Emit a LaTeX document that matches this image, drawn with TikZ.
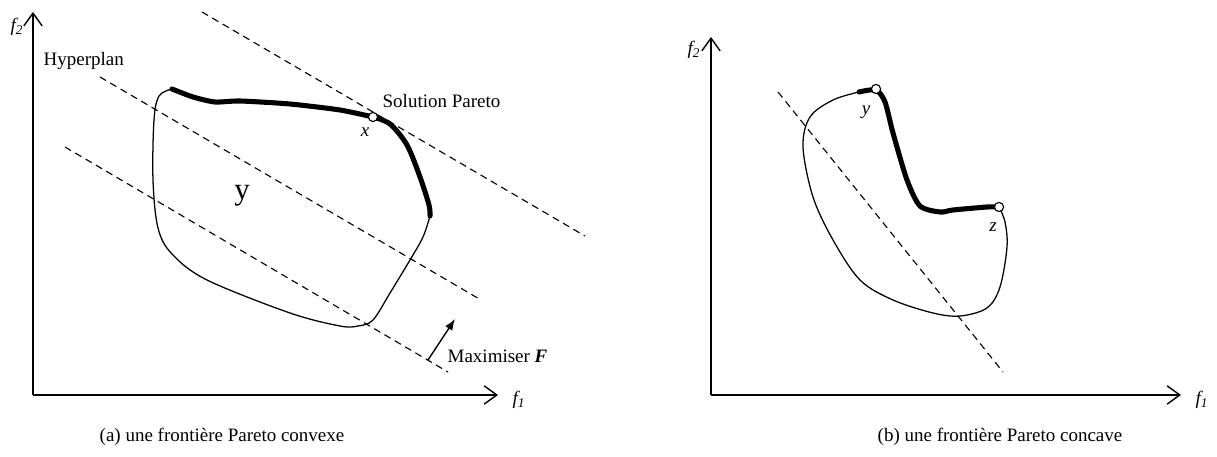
\documentclass[tikz,border=0pt]{standalone}
\usepackage{fontspec}
\setmainfont{Liberation Serif}
\usetikzlibrary{arrows.meta}
\tikzset{
  axe/.style={line width=1pt,-{Straight Barb[length=9pt,width=13pt,line width=1pt]}},
  bord/.style={line width=0.9pt},
  front/.style={line width=3.6pt,line cap=round,line join=round},
  hyper/.style={line width=0.8pt,dash pattern=on 5pt off 3.5pt},
  pointpar/.style={circle,draw,fill=white,line width=0.8pt,inner sep=0pt,minimum size=6.5pt},
  lbl/.style={inner sep=1pt,font=\fontsize{13.5}{16}\selectfont},
  var/.style={inner sep=1pt,font=\fontsize{13.5}{16}\selectfont\itshape}
}
\begin{document}
\begin{tikzpicture}[x=0.025cm,y=-0.025cm]
    \useasboundingbox (0,0) rectangle (1217,457);
    % (a) frontiere convexe
    \coordinate (oa) at (33,395);
    \coordinate (ya) at (33,12);
    \coordinate (xa) at (498,395);
    \draw[axe] (oa) -- (ya);
    \draw[axe] (oa) -- (xa);
    \node[var] (f2a) at (17,27) {f\textsubscript{2}};
    \node[var] (f1a) at (519,400) {f\textsubscript{1}};
    \draw[bord] plot[smooth,tension=0.55] coordinates {(430,216) (423,237) (410,260) (390,293) (373,320) (358,326) (340,326) (290,313) (207,280) (172,254) (158,228) (153,180) (154,120) (159,96) (172,89)};
    \draw[front] plot[smooth,tension=0.4] coordinates {(172,89) (193,97) (215,102) (240,101) (290,104) (340,110) (373,117)};
    \draw[front] plot[smooth,tension=0.5] coordinates {(373,117) (390,124) (407,145) (420,177) (429,205) (430,216)};
    \coordinate (h1a) at (202,12);
    \coordinate (h1b) at (585,236);
    \coordinate (h2a) at (100,77);
    \coordinate (h2b) at (481,300);
    \coordinate (h3a) at (65,147);
    \coordinate (h3b) at (448,372);
    \draw[hyper] (h1a) -- (h1b);
    \draw[hyper] (h2a) -- (h2b);
    \draw[hyper] (h3a) -- (h3b);
    \node[pointpar] (x) at (373,117) {};
    \node[var] (xlab) at (365,132) {x};
    \node[lbl,anchor=west] (sol) at (381,101) {Solution Pareto};
    \node[lbl,anchor=west] (hyp) at (42,61) {Hyperplan};
    \node[lbl,font=\fontsize{22}{26}\selectfont] (yset) at (242,196) {y};
    \coordinate (mx0) at (428,360);
    \coordinate (mx1) at (455,319);
    \draw[line width=1pt,-{Latex[length=8pt,width=6pt]}] (mx0) -- (mx1);
    \node[lbl,anchor=west] (maxf) at (446,356) {Maximiser \textbf{\textit{F}}};
    \node[lbl] (capa) at (222,437) {(a) une frontière Pareto convexe};
    % (b) frontiere concave
    \coordinate (ob) at (711,395);
    \coordinate (yb) at (711,37);
    \coordinate (xb) at (1181,395);
    \draw[axe] (ob) -- (yb);
    \draw[axe] (ob) -- (xb);
    \node[var] (f2b) at (694,50) {f\textsubscript{2}};
    \node[var] (f1b) at (1202,400) {f\textsubscript{1}};
    \draw[bord] plot[smooth,tension=0.55] coordinates {(999,207) (1005,222) (1007,247) (1000,287) (987,308) (960,316) (933,313) (893,300) (860,280) (833,240) (813,197) (803,147) (810,117) (833,100) (859,92)};
    \draw[front] plot[smooth,tension=0.45] coordinates {(859,92) (876,90) (885,102) (893,133) (907,180) (920,206) (940,212) (953,210) (987,207) (999,207)};
    \coordinate (hba) at (778,92);
    \coordinate (hbb) at (1003,372);
    \draw[hyper] (hba) -- (hbb);
    \node[pointpar] (py) at (876,89) {};
    \node[pointpar] (pz) at (999,207) {};
    \node[var] (ylab) at (866,112) {y};
    \node[var] (zlab) at (993,227) {z};
    \node[lbl] (capb) at (1000,437) {(b) une frontière Pareto concave};
\end{tikzpicture}
\end{document}
